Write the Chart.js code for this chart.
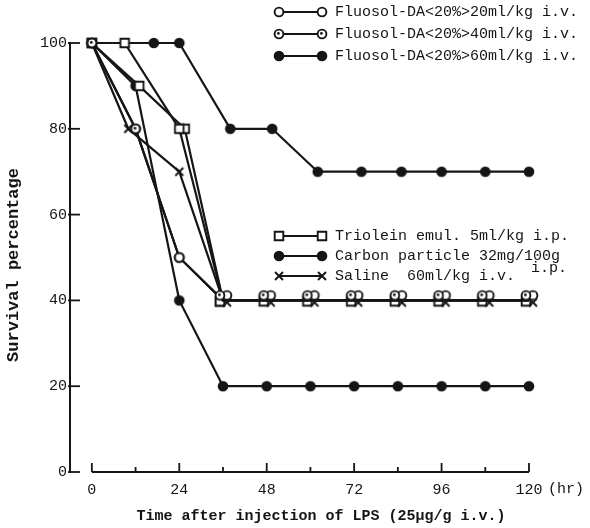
<!DOCTYPE html>
<html><head><meta charset="utf-8">
<script src="https://cdn.jsdelivr.net/npm/chart.js@4"></script>
<style>html,body{margin:0;padding:0;background:#fff}</style>
</head><body>
<canvas id="c" width="590" height="528"></canvas>
<script>
// ---- data ----
const xTickLabels = [0, 24, 48, 72, 96, 120];
const xMarkTicks  = [0, 12, 24, 36, 48, 60, 72, 84, 96, 108, 120];
const yTickLabels = [0, 20, 40, 60, 80, 100];

const fl20Time = [0, 12, 24, 36, 48, 60, 72, 84, 96, 108, 120];
const fl20Surv = [100, 80, 50, 40, 40, 40, 40, 40, 40, 40, 40];
const fl40Time = [0, 12, 24, 36, 48, 60, 72, 84, 96, 108, 120];
const fl40Surv = [100, 80, 50, 40, 40, 40, 40, 40, 40, 40, 40];
const fl60Time = [0, 17, 24, 38, 49.5, 62, 74, 85, 96, 108, 120];
const fl60Surv = [100, 100, 100, 80, 80, 70, 70, 70, 70, 70, 70];
const triTime  = [0, 9, 24, 36, 48, 60, 72, 84, 96, 108, 120];
const triSurv  = [100, 100, 80, 40, 40, 40, 40, 40, 40, 40, 40];
const tri2Time = [0, 13, 25.5, 36];
const tri2Surv = [100, 90, 80, 40];
const carTime  = [0, 12, 24, 36, 48, 60, 72, 84, 96, 108, 120];
const carSurv  = [100, 90, 40, 20, 20, 20, 20, 20, 20, 20, 20];
const salTime  = [0, 10, 24, 36, 48, 60, 72, 84, 96, 108, 120];
const salSurv  = [100, 80, 70, 40, 40, 40, 40, 40, 40, 40, 40];

const legendTop = ["Fluosol-DA<20%>20ml/kg i.v.", "Fluosol-DA<20%>40ml/kg i.v.", "Fluosol-DA<20%>60ml/kg i.v."];
const legendMid = ["Triolein emul. 5ml/kg i.p.", "Carbon particle 32mg/100g", "Saline  60ml/kg i.v."];
const xTitle = "Time after injection of LPS (25\u00b5g/g i.v.)";
const yTitle = "Survival percentage";

// ---- styling ----
const INK = '#151515';
const FONT = '"Liberation Mono", "DejaVu Sans Mono", monospace';

function marker(shape, dx = 0, dy = 0) {
  const c = document.createElement('canvas');
  c.width = 28; c.height = 28;
  const g = c.getContext('2d');
  const cx = 14 + dx, cy = 14 + dy;
  g.strokeStyle = INK; g.fillStyle = '#fff'; g.lineWidth = 1.9;
  if (shape === 'open' || shape === 'dot') {
    g.beginPath(); g.arc(cx, cy, 4.4, 0, Math.PI * 2); g.fill(); g.stroke();
    if (shape === 'dot') { g.fillStyle = INK; g.beginPath(); g.arc(cx - 0.6, cy - 0.6, 1.4, 0, Math.PI * 2); g.fill(); }
  } else if (shape === 'filled') {
    g.fillStyle = INK; g.beginPath(); g.arc(cx, cy, 5.3, 0, Math.PI * 2); g.fill();
  } else if (shape === 'square') {
    g.beginPath(); g.rect(cx - 4.3, cy - 4.3, 8.6, 8.6); g.fill(); g.stroke();
  } else if (shape === 'cross') {
    g.beginPath(); g.moveTo(cx - 4, cy - 4); g.lineTo(cx + 4, cy + 4);
    g.moveTo(cx + 4, cy - 4); g.lineTo(cx - 4, cy + 4); g.stroke();
  }
  return c;
}
const M = {
  open: marker('open'), dot: marker('dot'), filled: marker('filled'),
  square: marker('square'), cross: marker('cross'),
  openG: marker('open', 4, -5), dotG: marker('dot', -3, -5),
  squareG: marker('square', -3, 1), crossG: marker('cross', 4, 2)
};
const grouped = (plain, grp) => (ctx) => ctx.dataIndex >= 3 ? grp : plain;

const pts = (t, v) => t.map((h, i) => ({ x: h, y: v[i] }));
const base = { borderColor: INK, borderWidth: 2.2, tension: 0, clip: false, pointRadius: 6, fill: false };

const datasets = [
  Object.assign({ label: legendTop[1], data: pts(fl40Time, fl40Surv), pointStyle: (ctx) => ctx.dataIndex === 2 ? M.open : (ctx.dataIndex >= 3 ? M.dotG : M.dot) }, base),
  Object.assign({ label: legendTop[0], data: pts(fl20Time, fl20Surv), pointStyle: grouped(M.open, M.openG) }, base),
  Object.assign({ label: legendMid[2], data: pts(salTime, salSurv), pointStyle: grouped(M.cross, M.crossG) }, base),
  Object.assign({ label: legendMid[0], data: pts(triTime, triSurv), pointStyle: grouped(M.square, M.squareG) }, base),
  Object.assign({ label: legendMid[0] + ' (b)', data: pts(tri2Time, tri2Surv), pointStyle: grouped(M.square, M.squareG) }, base),
  Object.assign({ label: legendMid[1], data: pts(carTime, carSurv), pointStyle: M.filled }, base),
  Object.assign({ label: legendTop[2], data: pts(fl60Time, fl60Surv), pointStyle: M.filled }, base)
];

const decor = {
  id: 'decor',
  afterDraw(chart) {
    const { ctx, scales: { x, y } } = chart;
    ctx.save();
    ctx.strokeStyle = INK; ctx.lineWidth = 1.8;
    const y0 = y.getPixelForValue(0);
    ctx.beginPath(); ctx.moveTo(x.getPixelForValue(0), y0); ctx.lineTo(x.getPixelForValue(120), y0); ctx.stroke();
    xMarkTicks.forEach(v => {
      const px = x.getPixelForValue(v), len = v % 24 === 0 ? 9 : 5;
      ctx.beginPath(); ctx.moveTo(px, y0); ctx.lineTo(px, y0 - len); ctx.stroke();
    });
    yTickLabels.forEach(v => {
      const py = y.getPixelForValue(v);
      ctx.beginPath(); ctx.moveTo(x.left - 2, py); ctx.lineTo(x.left + 10, py); ctx.stroke();
    });
    ctx.fillStyle = INK; ctx.textBaseline = 'middle'; ctx.textAlign = 'left';
    ctx.font = '15px ' + FONT;
    const entry = (m, yy, text) => {
      ctx.beginPath(); ctx.moveTo(279, yy); ctx.lineTo(322, yy); ctx.stroke();
      ctx.drawImage(m, 279 - 14, yy - 14); ctx.drawImage(m, 322 - 14, yy - 14);
      ctx.fillText(text, 335, yy);
    };
    entry(M.open, 12, legendTop[0]);
    entry(M.dot, 34, legendTop[1]);
    entry(M.filled, 56, legendTop[2]);
    entry(M.square, 236, legendMid[0]);
    entry(M.filled, 256, legendMid[1]);
    entry(M.cross, 276, legendMid[2]);
    ctx.fillText('i.p.', 531, 268);
    ctx.fillText('(hr)', 548, 489);
    ctx.font = 'bold 15px ' + FONT;
    ctx.textAlign = 'center';
    ctx.fillText(xTitle, 321, 516);
    ctx.font = 'bold 17px ' + FONT;
    ctx.translate(14, 265); ctx.rotate(-Math.PI / 2);
    ctx.fillText(yTitle, 0, 0);
    ctx.restore();
  }
};

new Chart(document.getElementById('c'), {
  type: 'line',
  data: { datasets },
  options: {
    responsive: false, animation: false, devicePixelRatio: 1,
    layout: { padding: { top: 43, right: 61, left: 0, bottom: 0 } },
    plugins: { legend: { display: false }, tooltip: { enabled: false } },
    scales: {
      x: {
        type: 'linear', min: -6, max: 120,
        grid: { display: false, drawTicks: false }, border: { display: false },
        afterBuildTicks: (s) => { s.ticks = xTickLabels.map(v => ({ value: v })); },
        afterFit: (s) => { s.height = 56; },
        ticks: { padding: 9, color: INK, font: { family: FONT, size: 15 }, maxRotation: 0, autoSkip: false }
      },
      y: {
        min: 0, max: 100,
        grid: { display: false, drawTicks: false }, border: { display: true, color: INK, width: 2 },
        afterBuildTicks: (s) => { s.ticks = yTickLabels.map(v => ({ value: v })); },
        afterFit: (s) => { s.width = 70; },
        ticks: { padding: 3, color: INK, font: { family: FONT, size: 15 } }
      }
    }
  },
  plugins: [decor]
});
</script>
</body></html>
